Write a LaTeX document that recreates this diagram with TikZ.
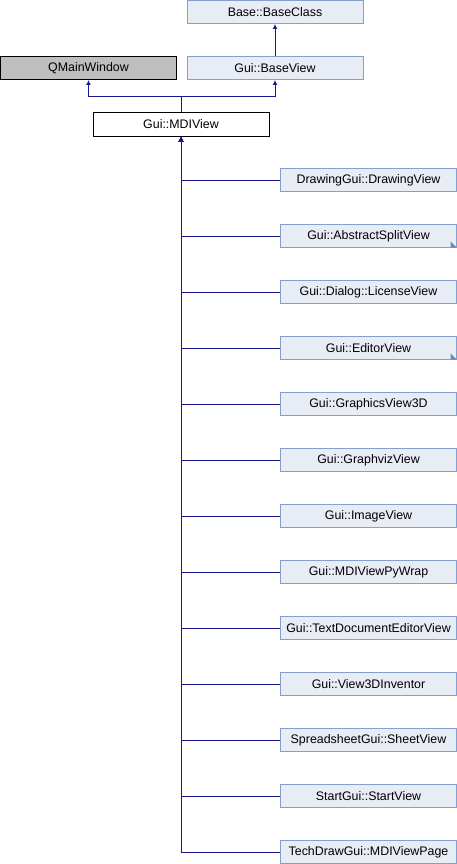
\documentclass[tikz,border=0pt]{standalone}
\usepackage{fontspec}
\setmainfont{Liberation Sans}
\usetikzlibrary{arrows.meta,positioning}
\definecolor{edgeblue}{RGB}{25,25,140}
\definecolor{boxfill}{RGB}{232,236,245}
\definecolor{boxline}{RGB}{132,160,206}
\definecolor{tipfill}{RGB}{108,136,190}

\begin{document}
\begin{tikzpicture}[x=1pt,y=-1pt,
  cls/.style={draw=boxline,fill=boxfill,line width=1pt,minimum width=176pt,
    minimum height=23pt,inner sep=0pt,font=\fontsize{12.4}{14}\selectfont},
  thiscls/.style={cls,draw=black,fill=white},
  extcls/.style={cls,draw=black,fill=black!25},
  inh/.style={draw=edgeblue,line width=1pt,-{Latex[length=5pt,width=5pt]}}]
  \useasboundingbox (0,0) rectangle (457,864);
  \pgfmathsetmacro {\dy}{56}    %derived class separation
  \pgfmathsetmacro {\dx}{368.5} %derived class column
  \pgfmathsetmacro {\ty}{180}   %first derived class

  %Base classes
  \node[cls] (bc) at (275,12) {Base::BaseClass};
  \node[cls] (bv) at (275,68) {Gui::BaseView};
  \node[extcls] (qmw) at (88.5,68) {QMainWindow};
  \node[thiscls] (mdi) at (181,124.5) {Gui::MDIView};

  \draw[inh] (bv) -- (bc);
  \coordinate (jn) at (181,97); %split of the two bases
  \draw[inh] (mdi.north) -- (jn) -| (qmw.south);
  \draw[inh] (jn) -| (bv.south);

  %Derived classes
  \foreach \name [count=\k from 0] in {DrawingGui::DrawingView,
      Gui::AbstractSplitView, Gui::Dialog::LicenseView, Gui::EditorView,
      Gui::GraphicsView3D, Gui::GraphvizView, Gui::ImageView,
      Gui::MDIViewPyWrap, Gui::TextDocumentEditorView, Gui::View3DInventor,
      SpreadsheetGui::SheetView, StartGui::StartView,
      TechDrawGui::MDIViewPage} {
    \node[cls] (d\k) at (\dx,{\ty+\k*\dy}) {\name};
    \draw[inh] (d\k.west) -| (mdi.south);
  }

  %Marks for classes with more children
  \foreach \k in {1,3}
    \fill[tipfill] ([shift={(-0.5,-0.5)}]d\k.south east) -- ++(-6,0) -- ++(0,-6) -- cycle;

\end{tikzpicture}
\end{document}
